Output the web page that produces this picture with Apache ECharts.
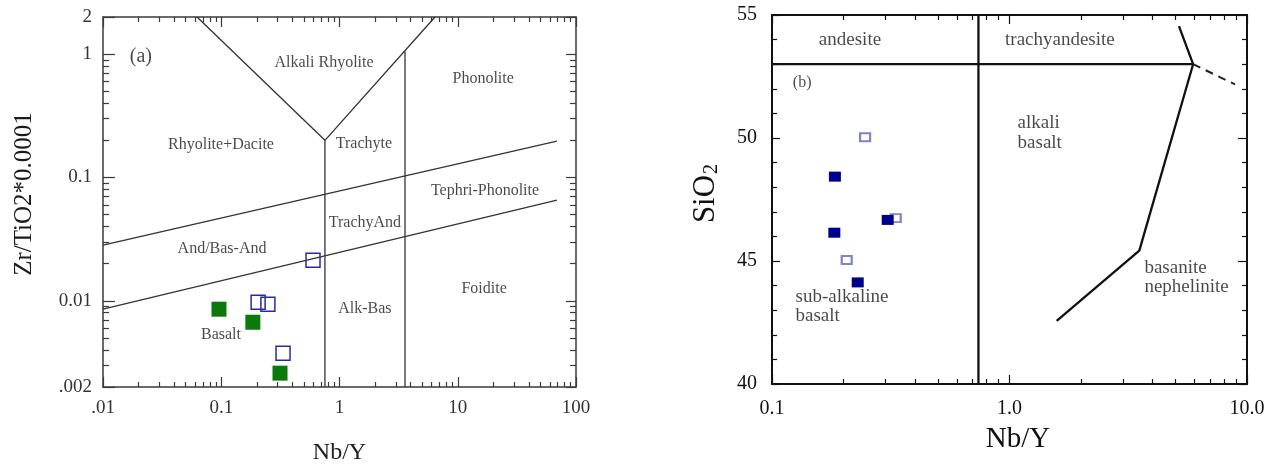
<!DOCTYPE html>
<html><head><meta charset="utf-8">
<script src="https://cdn.jsdelivr.net/npm/echarts@6/dist/echarts.min.js"></script>
<style>html,body{margin:0;padding:0;background:#fff}#c{width:1274px;height:466px}</style>
</head><body><div id="c"></div>
<script>
// ---------- Panel (a): Zr/TiO2*0.0001 vs Nb/Y ----------
const aXTickVals = [0.01, 0.1, 1, 10, 100];
const aXTickLabels = ['.01', '0.1', '1', '10', '100'];
const aYTickVals = [0.002, 0.01, 0.1, 1, 2];
const aYTickLabels = ['.002', '0.01', '0.1', '1', '2'];

const aBoundaries = [
  [[0.0624, 2], [0.753, 0.2], [6.42, 2]],
  [[0.753, 0.2], [0.753, 0.002]],
  [[3.58, 1.05], [3.58, 0.002]],
  [[0.01, 0.0283], [69, 0.197]],
  [[0.01, 0.00855], [69, 0.0655]]
];

const aFilledX = [0.0957, 0.185, 0.314];
const aFilledY = [0.00855, 0.0067, 0.00259];
const aOpenX = [0.597, 0.205, 0.248, 0.333];
const aOpenY = [0.0213, 0.00975, 0.00938, 0.00376];

const aFieldNames = ['Alkali Rhyolite', 'Phonolite', 'Rhyolite+Dacite', 'Trachyte', 'Tephri-Phonolite',
  'TrachyAnd', 'And/Bas-And', 'Alk-Bas', 'Foidite', 'Basalt'];
const aFieldX = [0.74, 16.4, 0.0995, 1.61, 17.0, 1.64, 0.1015, 1.64, 16.7, 0.0995];
const aFieldY = [0.845, 0.627, 0.183, 0.186, 0.0774, 0.0426, 0.0262, 0.00855, 0.0124, 0.00526];
const aPanelTag = ['(a)'];
const aPanelTagX = [0.0209];
const aPanelTagY = [0.946];

// ---------- Panel (b): SiO2 vs Nb/Y ----------
const bXTickVals = [0.1, 1, 10];
const bXTickLabels = ['0.1', '1.0', '10.0'];

const bSolidBoundaries = [
  [[0.1, 53], [5.93, 53]],
  [[0.74, 40], [0.74, 55]],
  [[5.17, 54.55], [5.93, 53], [3.52, 45.42], [1.58, 42.57]]
];
const bDashedBoundaries = [
  [[5.93, 53], [8.9, 52.18]]
];

const bFilledX = [0.184, 0.183, 0.307, 0.2296];
const bFilledY = [48.43, 46.15, 46.67, 44.13];
const bOpenX = [0.2465, 0.3318, 0.2063];
const bOpenY = [50.03, 46.74, 45.04];

const bCenterNames = ['andesite', 'trachyandesite', '(b)'];
const bCenterX = [0.213, 1.63, 0.134];
const bCenterY = [54.0, 54.0, 52.24];
const bLeftNames = ['alkali\nbasalt', 'sub-alkaline\nbasalt', 'basanite\nnephelinite'];
const bLeftX = [1.076, 0.125, 3.68];
const bLeftY = [50.2, 43.15, 44.33];

// ---------- helpers ----------
const SERIF = '"Liberation Serif", "DejaVu Serif", serif';
function pairs(xs, ys) { return xs.map((x, i) => [x, ys[i]]); }
function lookup(vals, labels) {
  return function (v) {
    for (let i = 0; i < vals.length; i++) {
      if (Math.abs(Math.log10(v) - Math.log10(vals[i])) < 1e-6) return labels[i];
    }
    return '';
  };
}

function mkAxis(o) {
  return {
    gridIndex: o.grid,
    type: o.type,
    position: o.position,
    min: o.min, max: o.max,
    interval: o.interval,
    splitLine: { show: false },
    axisLine: { show: true, onZero: false, lineStyle: { color: o.color, width: o.lineWidth } },
    axisTick: { show: true, inside: true, length: o.major, lineStyle: { color: o.color, width: 1.2 } },
    minorTick: { show: true, splitNumber: o.minorSplit, length: o.minor, lineStyle: { color: o.color, width: 1.2 } },
    axisLabel: o.label ? Object.assign({ show: true, fontFamily: SERIF, fontSize: o.fontSize, color: o.labelColor, margin: o.margin }, o.label) : { show: false },
    name: o.name || '',
    nameLocation: 'middle',
    nameGap: o.nameGap,
    nameTextStyle: o.nameTextStyle,
    silent: true
  };
}

const aColor = '#3a3a3a', bColor = '#111';

const xAxis = [
  mkAxis({ grid: 0, type: 'log', position: 'bottom', min: 0.01, max: 100, color: aColor, lineWidth: 1.5, major: 10, minor: 5, minorSplit: 9,
    label: { formatter: lookup(aXTickVals, aXTickLabels) }, fontSize: 19, labelColor: '#333', margin: 12,
    name: 'Nb/Y', nameGap: 54, nameTextStyle: { fontFamily: SERIF, fontSize: 24, color: '#222' } }),
  mkAxis({ grid: 0, type: 'log', position: 'top', min: 0.01, max: 100, color: aColor, lineWidth: 1.5, major: 10, minor: 5, minorSplit: 9 }),
  mkAxis({ grid: 1, type: 'log', position: 'bottom', min: 0.1, max: 10, color: bColor, lineWidth: 2, major: 9, minor: 5, minorSplit: 9,
    label: { formatter: lookup(bXTickVals, bXTickLabels) }, fontSize: 20, labelColor: '#111', margin: 15,
    name: 'Nb/Y', nameGap: 41, nameTextStyle: { fontFamily: SERIF, fontSize: 29, color: '#111', padding: [0, 0, 0, 17] } }),
  mkAxis({ grid: 1, type: 'log', position: 'top', min: 0.1, max: 10, color: bColor, lineWidth: 2, major: 9, minor: 5, minorSplit: 9 })
];

const yAxis = [
  mkAxis({ grid: 0, type: 'log', position: 'left', min: 0.002, max: 2, color: aColor, lineWidth: 1.5, major: 12, minor: 6, minorSplit: 9,
    label: { formatter: lookup(aYTickVals, aYTickLabels) }, fontSize: 19, labelColor: '#333', margin: 11,
    name: 'Zr/TiO2*0.0001', nameGap: 66, nameTextStyle: { fontFamily: SERIF, fontSize: 25, color: '#1a1a1a', padding: [0, 0, 0, 16] } }),
  mkAxis({ grid: 0, type: 'log', position: 'right', min: 0.002, max: 2, color: aColor, lineWidth: 1.5, major: 10, minor: 6, minorSplit: 9 }),
  mkAxis({ grid: 1, type: 'value', position: 'left', min: 40, max: 55, interval: 5, color: bColor, lineWidth: 2, major: 8, minor: 5, minorSplit: 5,
    label: { formatter: '{value}' }, fontSize: 20, labelColor: '#111', margin: 15,
    name: '{m|SiO}{s|2}', nameGap: 50,
    nameTextStyle: { fontFamily: SERIF, color: '#111', padding: [0, 0, 0, 12],
      rich: { m: { fontFamily: SERIF, fontSize: 31, color: '#111' }, s: { fontFamily: SERIF, fontSize: 20, color: '#111', padding: [13, 0, 0, 1] } } } }),
  mkAxis({ grid: 1, type: 'value', position: 'right', min: 40, max: 55, interval: 5, color: bColor, lineWidth: 2, major: 9, minor: 5, minorSplit: 5 })
];

const series = [];
function lineSeries(pts, xi, yi, color, width, dashed) {
  series.push({ type: 'line', xAxisIndex: xi, yAxisIndex: yi, data: pts, symbol: 'none', silent: true, z: 2,
    lineStyle: { color: color, width: width, type: dashed ? [8, 6] : 'solid' }, clip: false });
}
aBoundaries.forEach(p => lineSeries(p, 0, 0, '#333', 1.3, false));
bSolidBoundaries.forEach(p => lineSeries(p, 2, 2, '#111', 2.3, false));
bDashedBoundaries.forEach(p => lineSeries(p, 2, 2, '#222', 2, true));

function textSeries(names, xs, ys, xi, yi, pos, font) {
  series.push({ type: 'scatter', xAxisIndex: xi, yAxisIndex: yi, silent: true, z: 3,
    data: pairs(xs, ys), symbol: 'circle', symbolSize: 1, itemStyle: { color: 'rgba(0,0,0,0)' },
    label: Object.assign({ show: true, position: pos, distance: 0, formatter: p => names[p.dataIndex],
      fontFamily: SERIF, color: '#1a1a1a' }, font) });
}
textSeries(aFieldNames, aFieldX, aFieldY, 0, 0, 'inside', { fontSize: 16 });
textSeries(aPanelTag, aPanelTagX, aPanelTagY, 0, 0, 'inside', { fontSize: 20 });
textSeries(bCenterNames.slice(0, 2), bCenterX.slice(0, 2), bCenterY.slice(0, 2), 2, 2, 'inside', { fontSize: 19 });
textSeries(bCenterNames.slice(2), bCenterX.slice(2), bCenterY.slice(2), 2, 2, 'inside', { fontSize: 16 });
textSeries(bLeftNames, bLeftX, bLeftY, 2, 2, 'right', { fontSize: 19, lineHeight: 19.5, align: 'left' });

series.push({ type: 'scatter', xAxisIndex: 0, yAxisIndex: 0, silent: true, z: 4, data: pairs(aOpenX, aOpenY),
  symbol: 'rect', symbolSize: [14, 14], itemStyle: { opacity: 1, color: 'rgba(255,255,255,0)', borderColor: '#2a2aa0', borderWidth: 1.5 } });
series.push({ type: 'scatter', xAxisIndex: 0, yAxisIndex: 0, silent: true, z: 4, data: pairs(aFilledX, aFilledY),
  symbol: 'rect', symbolSize: [15, 15], itemStyle: { opacity: 1, color: '#0a7a0a' } });
series.push({ type: 'scatter', xAxisIndex: 2, yAxisIndex: 2, silent: true, z: 4, data: pairs(bOpenX, bOpenY),
  symbol: 'rect', symbolSize: [10, 8], itemStyle: { opacity: 1, color: 'rgba(255,255,255,0)', borderColor: '#8080cc', borderWidth: 2 } });
series.push({ type: 'scatter', xAxisIndex: 2, yAxisIndex: 2, silent: true, z: 5, data: pairs(bFilledX, bFilledY),
  symbol: 'rect', symbolSize: [12, 10], itemStyle: { opacity: 1, color: '#00008c' } });

const chart = echarts.init(document.getElementById('c'), null, { renderer: 'canvas' });
chart.setOption({
  animation: false,
  backgroundColor: '#fff',
  grid: [
    { left: 103, top: 17, width: 473, height: 370, containLabel: false, outerBoundsMode: 'none' },
    { left: 772, top: 15, width: 475, height: 369, containLabel: false, outerBoundsMode: 'none' }
  ],
  xAxis: xAxis,
  yAxis: yAxis,
  series: series
});
</script>
</body></html>
